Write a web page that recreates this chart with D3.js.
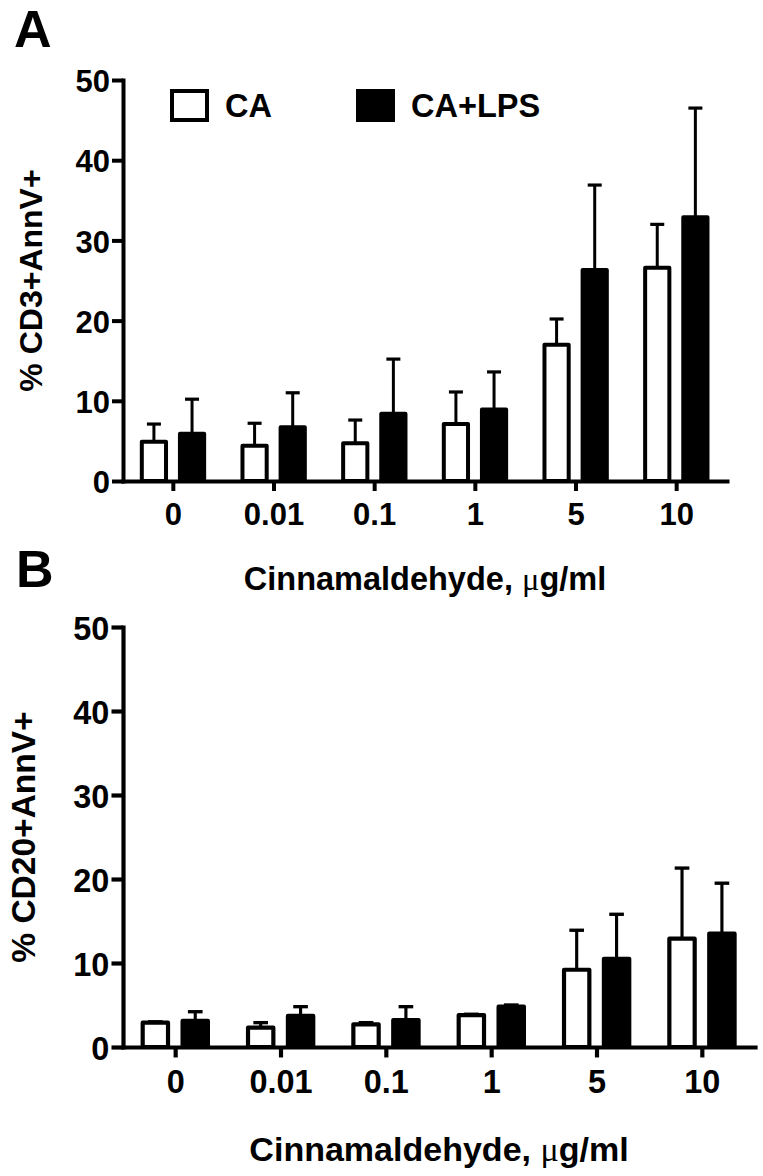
<!DOCTYPE html>
<html>
<head>
<meta charset="utf-8">
<script src="https://cdn.jsdelivr.net/npm/d3@7"></script>
<style>
  html, body { margin: 0; padding: 0; background: #fff; }
  svg { display: block; }
  text { font-family: "Liberation Sans", Arial, Helvetica, sans-serif; font-weight: bold; fill: #000; }
</style>
</head>
<body>
<svg id="chart" width="763" height="1176"></svg>
<script>
// ---- data ----
const categories = ["0", "0.01", "0.1", "1", "5", "10"];
const seriesNames = ["CA", "CA+LPS"];
const yTicks = [0, 10, 20, 30, 40, 50];

// Panel A: % CD3+AnnV+
const cd3CA      = [4.9, 4.4, 4.7, 7.1, 17.0, 26.6];
const cd3CAErr   = [2.2, 2.8, 2.9, 4.0, 3.2, 5.4];
const cd3LPS     = [5.9, 6.7, 8.4, 8.9, 26.3, 32.9];
const cd3LPSErr  = [4.3, 4.3, 6.8, 4.7, 10.6, 13.6];

// Panel B: % CD20+AnnV+
const cd20CA     = [2.9, 2.3, 2.7, 3.8, 9.2, 12.9];
const cd20CAErr  = [0.1, 0.6, 0.2, 0.1, 4.7, 8.4];
const cd20LPS    = [3.1, 3.7, 3.2, 4.8, 10.5, 13.5];
const cd20LPSErr = [1.1, 1.1, 1.6, 0.2, 5.3, 6.0];

const svg = d3.select("#chart");

function drawPanel(opt) {
  const k = opt.k;
  const g = svg.append("g");
  const x = d3.scaleBand().domain(categories).range([opt.x0, opt.x1]).padding(0);
  const y = d3.scaleLinear().domain([0, 50]).range([opt.y0, opt.y1]);
  const xs = d3.scaleBand().domain(seriesNames)
      .range([x.bandwidth() * 0.167, x.bandwidth() * 0.826]).paddingInner(0.26).paddingOuter(0);

  const rows = [];
  categories.forEach((c, i) => {
    rows.push({ c, s: seriesNames[0], v: opt.ca[i], e: opt.caErr[i] });
    rows.push({ c, s: seriesNames[1], v: opt.lps[i], e: opt.lpsErr[i] });
  });

  const sw = 4 * k;
  // error bars
  const eg = g.append("g");
  rows.forEach(d => {
    const cx = x(d.c) + xs(d.s) + xs.bandwidth() / 2;
    eg.append("line").attr("x1", cx).attr("x2", cx)
      .attr("y1", y(d.v)).attr("y2", y(d.v + d.e))
      .attr("stroke", "#000").attr("stroke-width", 3 * k);
    eg.append("line").attr("x1", cx - 7 * k).attr("x2", cx + 7 * k)
      .attr("y1", y(d.v + d.e)).attr("y2", y(d.v + d.e))
      .attr("stroke", "#000").attr("stroke-width", 3.2 * k);
  });
  // bars
  g.append("g").selectAll("rect").data(rows).join("rect")
    .attr("x", d => x(d.c) + xs(d.s) + sw / 2)
    .attr("width", xs.bandwidth() - sw)
    .attr("y", d => y(d.v))
    .attr("height", d => y(0) - y(d.v))
    .attr("fill", d => d.s === seriesNames[0] ? "#fff" : "#000")
    .attr("stroke", "#000")
    .attr("stroke-width", sw)
    .attr("stroke-linejoin", "round");

  // y axis
  const ya = g.append("g").attr("transform", `translate(${opt.x0},0)`)
    .call(d3.axisLeft(y).tickValues(yTicks).tickSize(11 * k).tickSizeOuter(0).tickPadding(2 * k));
  ya.select(".domain").attr("stroke-width", 4 * k).attr("stroke-linecap", "square");
  ya.selectAll(".tick line").attr("stroke-width", 4 * k);
  ya.selectAll(".tick text").attr("font-size", 31 * k).attr("dy", "0.38em")
    .attr("font-family", "Liberation Sans, Arial, sans-serif").attr("font-weight", "bold");

  // x axis
  const xa = g.append("g").attr("transform", `translate(0,${opt.y0})`)
    .call(d3.axisBottom(x).tickSize(10 * k).tickSizeOuter(0).tickPadding(12 * k));
  xa.select(".domain").attr("stroke-width", 4 * k).attr("stroke-linecap", "square");
  xa.selectAll(".tick line").attr("stroke-width", 4 * k);
  xa.selectAll(".tick text").attr("font-size", 31 * k)
    .attr("font-family", "Liberation Sans, Arial, sans-serif").attr("font-weight", "bold");

  // x title
  const xt = g.append("text")
    .attr("x", (opt.x0 + opt.x1) / 2).attr("y", opt.y0 + 109 * k)
    .attr("text-anchor", "middle").attr("font-size", 32.5 * k);
  xt.append("tspan").text("Cinnamaldehyde, ");
  xt.append("tspan").text("\u03bc").attr("font-family", "Liberation Serif, serif").attr("font-weight", "normal");
  xt.append("tspan").text("g/ml");

  // y title
  g.append("text")
    .attr("transform", `translate(${opt.ylx},${(opt.y0 + opt.y1) / 2}) rotate(-90)`)
    .attr("text-anchor", "middle").attr("font-size", 32 * k)
    .text(opt.ylabel);

  // panel letter
  g.append("text").attr("x", opt.lx).attr("y", opt.ly)
    .attr("font-size", 52).text(opt.letter);

  return { x, y };
}

drawPanel({
  k: 1, x0: 123, x1: 727, y0: 481, y1: 80,
  ca: cd3CA, caErr: cd3CAErr, lps: cd3LPS, lpsErr: cd3LPSErr,
  ylabel: "% CD3+AnnV+", ylx: 42, letter: "A", lx: 14, ly: 47
});

drawPanel({
  k: 1.047, x0: 123, x1: 755, y0: 1047, y1: 627,
  ca: cd20CA, caErr: cd20CAErr, lps: cd20LPS, lpsErr: cd20LPSErr,
  ylabel: "% CD20+AnnV+", ylx: 35, letter: "B", lx: 16, ly: 587
});

// legend (panel A)
const legendX = [172, 358];
const lg = svg.append("g");
seriesNames.forEach((s, i) => {
  lg.append("rect").attr("x", legendX[i]).attr("y", 91).attr("width", 35).attr("height", 29)
    .attr("fill", i === 0 ? "#fff" : "#000").attr("stroke", "#000").attr("stroke-width", 4);
  lg.append("text").attr("x", legendX[i] + 53).attr("y", 117).attr("font-size", 32.5).text(s);
});
</script>
</body>
</html>
